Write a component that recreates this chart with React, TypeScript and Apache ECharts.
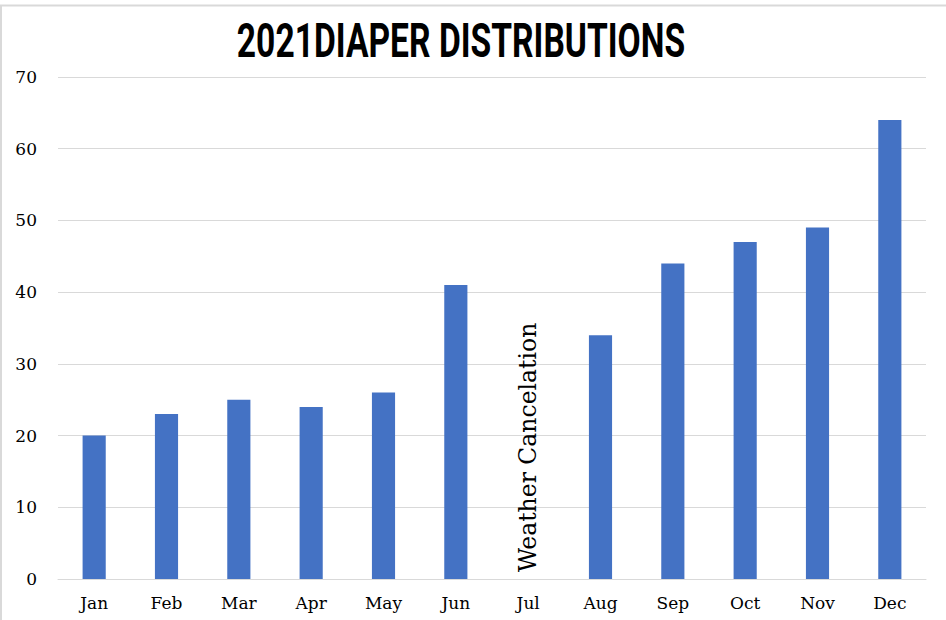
import React, { useEffect, useRef } from "react";
import * as echarts from "echarts";

const months = ["Jan", "Feb", "Mar", "Apr", "May", "Jun", "Jul", "Aug", "Sep", "Oct", "Nov", "Dec"];
const distributions = [20, 23, 25, 24, 26, 41, 0, 34, 44, 47, 49, 64];
const cancelledMonth = "Jul";
const cancelNote = "Weather Cancelation";
const titleText = "2021DIAPER DISTRIBUTIONS";
const yTicks = [0, 10, 20, 30, 40, 50, 60, 70];

export default function App() {
  const ref = useRef<HTMLDivElement>(null);
  useEffect(() => {
    if (!ref.current) return;
    const chart = echarts.init(ref.current, null, { renderer: "svg" });
    const data = months.map((m, i) =>
      m === cancelledMonth
        ? {
            value: distributions[i],
            label: {
              show: true,
              position: "top",
              rotate: 90,
              align: "left",
              verticalAlign: "middle",
              distance: 7,
              formatter: cancelNote,
              fontFamily: "DejaVu Serif",
              fontSize: 23.5,
              color: "#000",
            },
          }
        : distributions[i]
    );
    chart.setOption({
      animation: false,
      backgroundColor: "#fff",
      grid: { left: 58, right: 20, top: 77, bottom: 41, containLabel: false },
      graphic: [
        {
          type: "line",
          shape: { x1: 0, y1: 5.5, x2: 946, y2: 5.5 },
          style: { stroke: "#d9d9d9", lineWidth: 2 },
        },
        {
          type: "line",
          shape: { x1: 1, y1: 5, x2: 1, y2: 620 },
          style: { stroke: "#d9d9d9", lineWidth: 2 },
        },
        {
          type: "text",
          x: 461,
          y: 41,
          scaleX: 0.7,
          style: {
            text: titleText,
            fontFamily: "Roboto",
            fontWeight: "bold",
            fontSize: 48,
            fill: "#000",
            align: "center",
            verticalAlign: "middle",
          },
        },
      ],
      xAxis: {
        type: "category",
        data: months,
        axisLine: { lineStyle: { color: "#d9d9d9", width: 1 } },
        axisTick: { show: false },
        axisLabel: {
          color: "#000",
          fontFamily: "DejaVu Serif",
          fontSize: 17,
          margin: 15,
        },
      },
      yAxis: {
        type: "value",
        min: yTicks[0],
        max: yTicks[yTicks.length - 1],
        interval: 10,
        axisLine: { show: false },
        axisTick: { show: false },
        splitLine: { lineStyle: { color: "#d9d9d9", width: 1 } },
        axisLabel: {
          color: "#000",
          fontFamily: "DejaVu Serif",
          fontSize: 17,
          margin: 21,
        },
      },
      series: [
        {
          type: "bar",
          data,
          barWidth: "32%",
          itemStyle: { color: "#4472C4" },
        },
      ],
    });
    return () => chart.dispose();
  }, []);
  return (
    <div
      ref={ref}
      style={{ position: "fixed", left: 0, top: 0, width: 946, height: 620 }}
    />
  );
}
